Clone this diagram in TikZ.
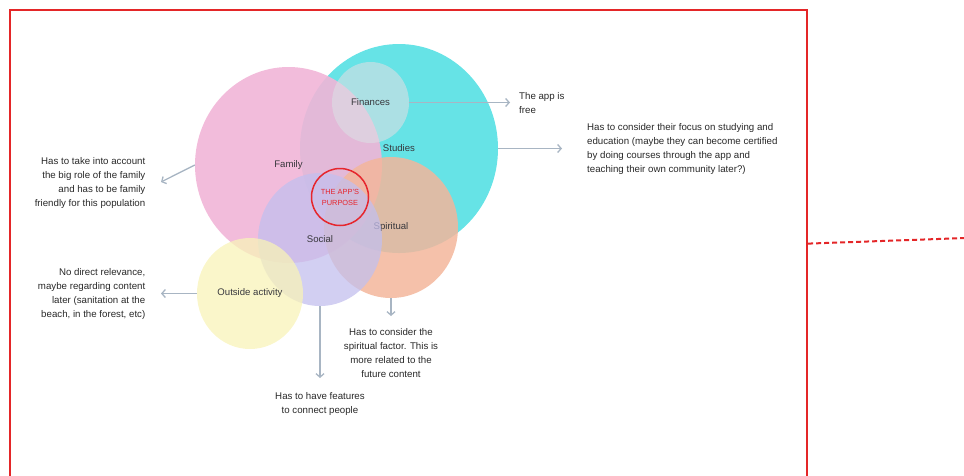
\documentclass[tikz,border=0pt]{standalone}
\usepackage{fontspec}
\setmainfont{Liberation Sans}
\usetikzlibrary{shapes.geometric,arrows.meta}
\definecolor{framered}{RGB}{228,38,40}
\definecolor{cstud}{RGB}{102,227,230}
\definecolor{cfam}{RGB}{241,181,215}
\definecolor{cfin}{RGB}{220,222,228}
\definecolor{cspir}{RGB}{243,182,155}
\definecolor{csoc}{RGB}{195,191,238}
\definecolor{cout}{RGB}{248,243,184}
\definecolor{arrowgray}{RGB}{168,181,195}
\definecolor{notegray}{RGB}{40,40,40}
\definecolor{labelgray}{RGB}{55,55,60}
\definecolor{corered}{RGB}{230,38,45}
\begin{document}
\begin{tikzpicture}[x=1pt,y=-1pt,
  blob/.style={ellipse, draw=none, inner sep=0pt, fill opacity=0.75, text opacity=1,
    font=\fontsize{9.6}{12}\selectfont, text=labelgray},
  conn/.style={draw=arrowgray, line width=1.3pt, -{Straight Barb[length=3.5pt,width=8pt]}},
  note/.style={font=\fontsize{9.7}{14}\selectfont, text=notegray, inner sep=0pt}]
\useasboundingbox (0,0) rectangle (964,475);
% frame
\node[draw=framered, line width=2.2pt, minimum width=797pt, minimum height=467pt,
  inner sep=0pt, anchor=north west] (frame) at (9,9) {};
\coordinate (dashend) at (966,238);
\draw[framered, line width=2pt, dash pattern=on 5pt off 3pt] (frame.east) -- (dashend);
% circles
\node[blob, fill=cstud, fill opacity=1, minimum width=198pt, minimum height=209pt] (stud) at (399,148.5) {Studies};
\node[blob, fill=cfam, fill opacity=0.9, minimum width=187pt, minimum height=196pt] (fam) at (288.5,165) {Family};
\node[blob, fill=cfin, fill opacity=0.6, minimum width=77pt, minimum height=81pt] (fin) at (370.5,102.5) {Finances};
\node[blob, fill=cspir, fill opacity=0.85, minimum width=134pt, minimum height=141pt] (spir) at (391,227.5) {Spiritual};
\node[blob, fill=csoc, minimum width=124pt, minimum height=133pt] (soc) at (320,239.5) {Social};
\node[blob, fill=cout, minimum width=106pt, minimum height=111pt] (out) at (250,293.5) {Outside activity};
\node[circle, draw=corered, line width=1.5pt, minimum size=57pt, inner sep=0pt,
  text=corered, align=center, font=\fontsize{7.4}{11}\selectfont] (core) at (340,197) {THE APP'S\\PURPOSE};
% notes
\node[note, anchor=north west, align=left] (finnote) at (519,92) {The app is\\free};
\node[note, anchor=north west, align=left] (studnote) at (587,123.7) {Has to consider their focus on studying and\\education (maybe they can become certified\\by doing courses through the app and\\teaching their own community later?)};
\node[note, anchor=north east, align=right] (famnote) at (145.5,157.5) {Has to take into account\\the big role of the family\\and has to be family\\friendly for this population};
\node[note, anchor=north east, align=right] (outnote) at (145.5,268.5) {No direct relevance,\\maybe regarding content\\later (sanitation at the\\beach, in the forest, etc)};
\node[note, anchor=north, align=center] (spirnote) at (391,328.7) {Has to consider the\\spiritual factor. This is\\more related to the\\future content};
\node[note, anchor=north, align=center] (socnote) at (320,392.4) {Has to have features\\to connect people};
% connector ends
\coordinate (finend) at (510,102.5);
\coordinate (studend) at (562,148.5);
\coordinate (famend) at (161,182);
\coordinate (outend) at (161,293.5);
\coordinate (spirend) at (391,316);
\coordinate (socend) at (320,378);
\draw[conn] (fin.east) -- (finend);
\draw[conn] (stud.east) -- (studend);
\draw[conn] (fam.west) -- (famend);
\draw[conn] (out.west) -- (outend);
\draw[conn] (spir.south) -- (spirend);
\draw[conn] (soc.south) -- (socend);
\end{tikzpicture}
\end{document}
